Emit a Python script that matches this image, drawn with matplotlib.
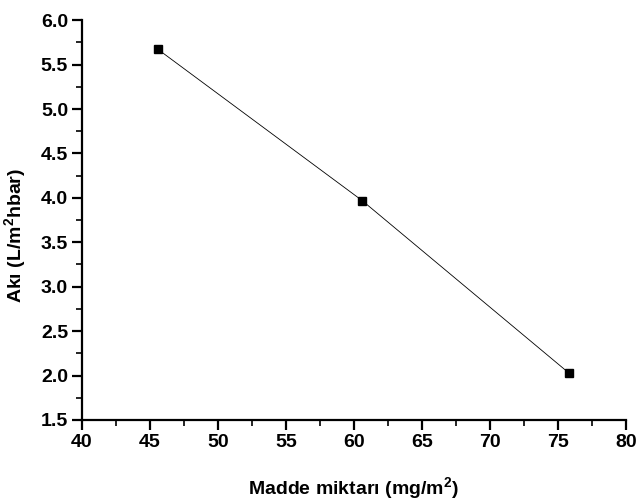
import matplotlib
matplotlib.use("Agg")
import matplotlib.pyplot as plt
from matplotlib.ticker import MultipleLocator, FormatStrFormatter

x_vals = [45.6, 60.6, 75.8]
y_vals = [5.67, 3.97, 2.03]
x_label = "Madde miktarı (mg/m$^\\mathbf{2}$)"
y_label = "Akı (L/m$^\\mathbf{2}$hbar)"

plt.rcParams['font.family'] = ['Liberation Sans', 'DejaVu Sans']
plt.rcParams['mathtext.fontset'] = 'custom'
plt.rcParams['mathtext.bf'] = 'Liberation Sans:bold'
plt.rcParams['mathtext.rm'] = 'Liberation Sans'

fig = plt.figure(figsize=(6.38, 5.04), dpi=100)
ax = fig.add_axes([0.1285, 0.1667, 0.8525, 0.7933])
ax.plot(x_vals, y_vals, color='black', linewidth=0.6, marker='s', markersize=6,
        markerfacecolor='black', markeredgecolor='black')
ax.set_xlim(40, 80)
ax.set_ylim(1.5, 6.0)
ax.xaxis.set_major_locator(MultipleLocator(5))
ax.xaxis.set_minor_locator(MultipleLocator(2.5))
ax.yaxis.set_major_locator(MultipleLocator(0.5))
ax.yaxis.set_minor_locator(MultipleLocator(0.25))
ax.yaxis.set_major_formatter(FormatStrFormatter('%.1f'))
for s in ['top', 'right']:
    ax.spines[s].set_visible(False)
for s in ['left', 'bottom']:
    ax.spines[s].set_linewidth(1.6)
ax.tick_params(which='major', direction='out', length=7, width=1.6, labelsize=14, pad=3)
ax.tick_params(which='minor', direction='out', length=4, width=1.2)
for lab in ax.get_xticklabels() + ax.get_yticklabels():
    lab.set_fontweight('bold')
ax.set_xlabel(x_label, fontsize=14, fontweight='bold', labelpad=18)
ax.set_ylabel(y_label, fontsize=14, fontweight='bold')
ax.yaxis.set_label_coords(-0.097, 0.4625)
fig.savefig('out.png', dpi=100)
